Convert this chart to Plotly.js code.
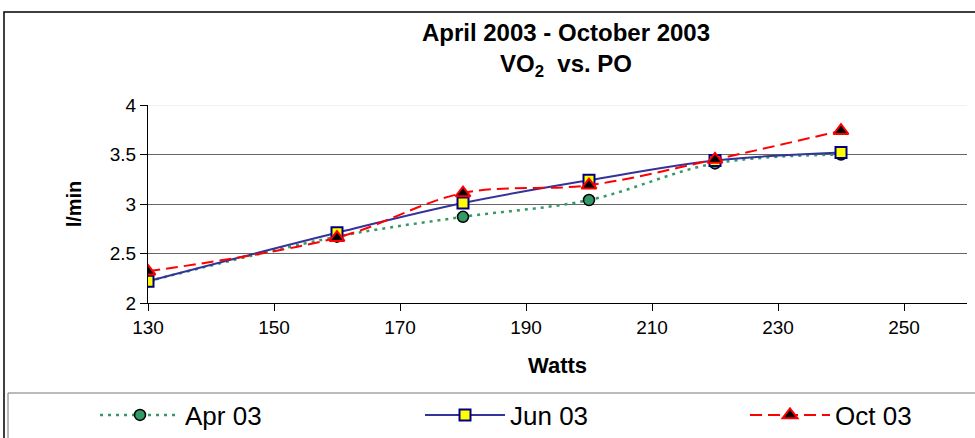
<!DOCTYPE html>
<html>
<head>
<meta charset="utf-8">
<script src="https://cdn.plot.ly/plotly-3.0.1.min.js"></script>
<style>html,body{margin:0;padding:0;background:#fff;}#chart{width:975px;height:438px;}</style>
</head>
<body>
<div id="chart"></div>
<script>
const watts = [130, 160, 180, 200, 220, 240];
const apr03 = [2.22, 2.67, 2.87, 3.04, 3.41, 3.50];
const jun03 = [2.22, 2.71, 3.01, 3.24, 3.44, 3.52];
const oct03 = [2.32, 2.66, 3.11, 3.19, 3.45, 3.74];
const seriesNames = ["Apr 03", "Jun 03", "Oct 03"];
const xTicks = [130, 150, 170, 190, 210, 230, 250];
const yTicks = [2, 2.5, 3, 3.5, 4];

// plot area in pixels
const L = 148, R = 967, T = 105, B = 303, W = 975, H = 438;
const px = x => (x - L) / (R - L);
const py = y => (B - y) / (B - T);

const font = "Liberation Sans, Arial, sans-serif";

const traces = [
  {
    x: watts, y: apr03, name: seriesNames[0], type: "scatter", mode: "lines+markers", legend: "legend",
    line: {color: "#339966", width: 2.5, dash: "3px,5px", shape: "spline"},
    marker: {symbol: "circle", size: 11, color: "#339966", line: {color: "#000", width: 1.5}}
  },
  {
    x: watts, y: jun03, name: seriesNames[1], type: "scatter", mode: "lines+markers", legend: "legend2",
    line: {color: "#333399", width: 2, shape: "spline"},
    marker: {symbol: "square", size: 11, color: "#ffff00", line: {color: "#000080", width: 2}}
  },
  {
    x: watts, y: oct03, name: seriesNames[2], type: "scatter", mode: "lines+markers", legend: "legend3",
    line: {color: "#ff0000", width: 2, dash: "12px,6px", shape: "spline"},
    marker: {symbol: "triangle-up", size: 13, color: "#000", line: {color: "#ff0000", width: 2}}
  }
];

const legendBase = (xpix) => ({
  orientation: "h", x: px(xpix), xanchor: "left", y: py(415), yanchor: "middle",
  font: {family: font, size: 26, color: "#000"},
  itemwidth: 80, bgcolor: "rgba(0,0,0,0)", borderwidth: 0
});

const layout = {
  width: W, height: H,
  margin: {l: L, r: W - R, t: T, b: H - B, pad: 0, autoexpand: false},
  paper_bgcolor: "#fff", plot_bgcolor: "#fff",
  font: {family: font, color: "#000", size: 19},
  title: {
    text: "<b>April 2003 - October 2003</b><br><b>VO<sub>2</sub>  vs. PO</b>",
    font: {family: font, size: 24, color: "#000"},
    x: px(566), xref: "paper", xanchor: "center",
    y: 1 - 41 / H, yref: "container", yanchor: "top"
  },
  xaxis: {
    range: [130, 260], tickvals: xTicks, ticktext: xTicks.map(String),
    showgrid: false, zeroline: false, showline: true, linecolor: "#000", linewidth: 1,
    ticks: "outside", ticklen: 7, tickcolor: "#000",
    tickfont: {family: font, size: 19, color: "#000"},
    title: {text: "<b>Watts</b>", font: {family: font, size: 22, color: "#000"}, standoff: 20}
  },
  yaxis: {
    range: [2, 4], tickvals: yTicks, ticktext: ["2", "2.5", "3", "3.5", "4"],
    showgrid: true, gridcolor: "#666", gridwidth: 1, zeroline: false,
    showline: true, linecolor: "#000", linewidth: 1,
    ticks: "outside", ticklen: 7, tickcolor: "#000",
    tickfont: {family: font, size: 19, color: "#000"},
    title: {text: "<b>l/min</b>", font: {family: font, size: 20, color: "#000"}, standoff: 22}
  },
  showlegend: true,
  legend: legendBase(95),
  legend2: legendBase(420),
  legend3: legendBase(745),
  shapes: [
    {type: "rect", xref: "paper", yref: "paper", x0: px(4), x1: px(990), y0: py(460), y1: py(12),
     line: {color: "#000", width: 1.5}, fillcolor: "rgba(0,0,0,0)", layer: "below"},
    {type: "rect", xref: "paper", yref: "paper", x0: px(8), x1: px(990), y0: py(460), y1: py(393),
     line: {color: "#777", width: 1}, fillcolor: "rgba(0,0,0,0)", layer: "below"},
    {type: "line", xref: "paper", yref: "y", x0: 0, x1: 1, y0: 4, y1: 4,
     line: {color: "#e6e6e6", width: 1}, layer: "above"}
  ]
};

Plotly.newPlot("chart", traces, layout, {displayModeBar: false, staticPlot: true});
</script>
</body>
</html>
